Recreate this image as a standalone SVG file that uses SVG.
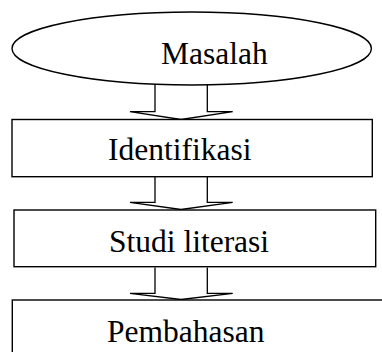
<svg xmlns="http://www.w3.org/2000/svg" width="382" height="352" viewBox="0 0 382 352">
<style>
.shape{fill:#fff;stroke:#000;stroke-width:1.4}
.arrow{fill:#fff;stroke:#000;stroke-width:1.3;stroke-linejoin:miter}
.label{font-family:"Liberation Serif","Times New Roman",serif;font-size:31.5px;fill:#000}
</style>
<rect width="382" height="352" fill="#fff"/>
<g id="connectors">
<path class="arrow" d="M155,85 V111.7 H130 L181,119.5 L232.7,111.7 H207.3 V85"/>
<path class="arrow" d="M155,177 V202.3 H130 L181,209.5 L232.7,202.3 H207.3 V177"/>
<path class="arrow" d="M155,267.5 V293.3 H130 L181,299.5 L232.7,293.3 H207.3 V267.5"/>
</g>
<g id="masalah">
<ellipse class="shape" cx="191.7" cy="48.5" rx="179.7" ry="36.5"/>
<text class="label" x="161" y="64">Masalah</text>
</g>
<g id="identifikasi">
<rect class="shape" x="12" y="119.5" width="360.3" height="57.2"/>
<text class="label" x="108" y="159.5">Identifikasi</text>
</g>
<g id="studi-literasi">
<rect class="shape" x="14" y="210" width="361.7" height="56.7"/>
<text class="label" x="109" y="251.7">Studi literasi</text>
</g>
<g id="pembahasan">
<rect class="shape" x="12.3" y="300" width="380" height="70"/>
<text class="label" x="107" y="341.7">Pembahasan</text>
</g>
</svg>
